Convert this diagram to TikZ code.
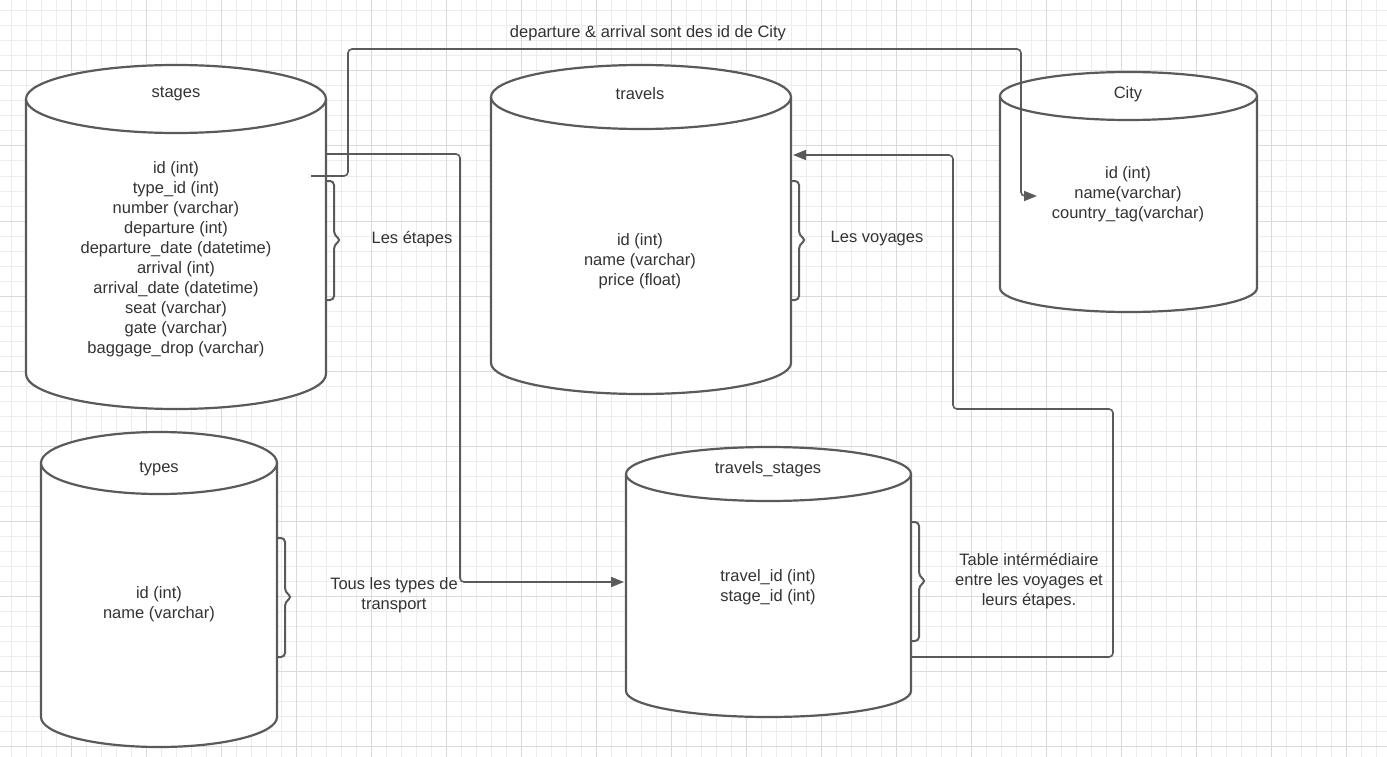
\documentclass[tikz,border=0pt]{standalone}
\usepackage{fontspec}
\setmainfont{Liberation Sans}
\usetikzlibrary{calc,arrows.meta}
\definecolor{linecol}{HTML}{5A5A5A}
\definecolor{txtcol}{HTML}{333333}
\definecolor{gridminor}{HTML}{EDEDED}
\definecolor{gridmajor}{HTML}{DADADA}
\newcommand\dbcyl[6]{% xl xr yt ryt yb ryb
  \pgfmathsetmacro\cylcx{(#1+#2)/2}%
  \pgfmathsetmacro\cylrx{(#2-#1)/2}%
  \filldraw[cylline] (#1,#3)
    .. controls (#1,{#3-0.5523*#4}) and ({\cylcx-0.5523*\cylrx},{#3-#4}) .. (\cylcx,{#3-#4})
    .. controls ({\cylcx+0.5523*\cylrx},{#3-#4}) and (#2,{#3-0.5523*#4}) .. (#2,#3)
    -- (#2,#5)
    .. controls (#2,{#5+0.5523*#6}) and ({\cylcx+0.5523*\cylrx},{#5+#6}) .. (\cylcx,{#5+#6})
    .. controls ({\cylcx-0.5523*\cylrx},{#5+#6}) and (#1,{#5+0.5523*#6}) .. (#1,#5)
    -- cycle;
  \draw[cylline] (#1,#3)
    .. controls (#1,{#3+0.5523*#4}) and ({\cylcx-0.5523*\cylrx},{#3+#4}) .. (\cylcx,{#3+#4})
    .. controls ({\cylcx+0.5523*\cylrx},{#3+#4}) and (#2,{#3+0.5523*#4}) .. (#2,#3);
}
\tikzset{
  cylline/.style={draw=linecol, fill=white, line width=2.2pt, line join=round},
  box/.style={draw=none, inner sep=0pt, outer sep=0pt, rectangle},
  txt/.style={text=txtcol, font=\fontsize{16.5}{20}\selectfont, align=center, inner sep=0pt},
  conn/.style={draw=linecol, line width=1.6pt, rounded corners=4pt},
  tip/.style={-{Triangle[length=13pt,width=10pt]}},
  brace/.style={draw=linecol, line width=2pt, rounded corners=4pt},
  minor/.style={draw=gridminor, line width=1pt},
  major/.style={draw=gridmajor, line width=1pt}
}
\begin{document}
\begin{tikzpicture}[x=1pt,y=-1pt]
\useasboundingbox (0,0) rectangle (1387,757);
\fill[white] (0,0) rectangle (1387,757);
% grid
\foreach \x in {11,26,...,1386} \draw[minor] (\x,0) -- (\x,757);
\foreach \y in {11,26,...,756} \draw[minor] (0,\y) -- (1387,\y);
\foreach \x in {71,146,...,1386} \draw[major] (\x,0) -- (\x,757);
\foreach \y in {71,146,...,756} \draw[major] (0,\y) -- (1387,\y);

% cylinders
\dbcyl{26}{326}{99}{34}{374}{35}
\dbcyl{41}{277}{463}{31}{717}{30}
\dbcyl{491}{791}{97}{32}{363}{31}
\dbcyl{1000}{1257}{96}{24}{288}{24}
\dbcyl{626}{911}{474}{27}{691}{26}

% named frames of the cylinders
\node[box, minimum width=300pt, minimum height=345pt] (stages) at (176,236.5) {};
\node[box, minimum width=236pt, minimum height=314pt] (types) at (159,590) {};
\node[box, minimum width=300pt, minimum height=329pt] (travels) at (641,229.5) {};
\node[box, minimum width=257pt, minimum height=240pt] (City) at (1128.5,192) {};
\node[box, minimum width=285pt, minimum height=270pt] (ts) at (768.5,582) {};

% titles and fields
\node[txt] (stages-title) at (176,94) {stages};
\node[txt] (stages-fields) at (176,259) {id (int)\\type\_id (int)\\number (varchar)\\departure (int)\\departure\_date (datetime)\\arrival (int)\\arrival\_date (datetime)\\seat (varchar)\\gate (varchar)\\baggage\_drop (varchar)};
\node[txt] (travels-title) at (640,94) {travels};
\node[txt] (travels-fields) at (640,261) {id (int)\\name (varchar)\\price (float)};
\node[txt] (City-title) at (1128,94) {City};
\node[txt] (City-fields) at (1128,194) {id (int)\\name(varchar)\\country\_tag(varchar)};
\node[txt] (types-title) at (159,469) {types};
\node[txt] (types-fields) at (159,604) {id (int)\\name (varchar)};
\node[txt] (ts-title) at (768,469) {travels\_stages};
\node[txt] (ts-fields) at (768,587) {travel\_id (int)\\stage\_id (int)};

% braces
\draw[brace] ($(stages.north east)+(0,117)$) -- ++(8,0) -- ++(0,54) -- ++(7,5) -- ++(-7,5) -- ++(0,55) -- ++(-8,0);
\draw[brace] ($(travels.north east)+(0,116)$) -- ++(8,0) -- ++(0,54) -- ++(7,5) -- ++(-7,5) -- ++(0,55) -- ++(-8,0);
\draw[brace] ($(types.north east)+(0,105)$) -- ++(8,0) -- ++(0,54) -- ++(7,5) -- ++(-7,5) -- ++(0,55) -- ++(-8,0);
\draw[brace] ($(ts.north east)+(0,75)$) -- ++(8,0) -- ++(0,54) -- ++(7,5) -- ++(-7,5) -- ++(0,55) -- ++(-8,0);

% brace labels
\node[txt] (l-stages) at (412,239) {Les étapes};
\node[txt] (l-travels) at (877,239) {Les voyages};
\node[txt] (l-types) at (394,595) {Tous les types de\\transport};
\node[txt] (l-ts) at (1029,581) {Table intérmédiaire\\entre les voyages et\\leurs étapes.};
\node[txt] (l-city) at (648,33) {departure \& arrival sont des id de City};

% connectors
\draw[conn,tip] ($(stages.north east)+(-15,112)$) -- ++(37,0) -- ++(0,-127) -| ($(City.north west)+(21,124)$) -- ($(City.north west)+(37,124)$);
\draw[conn,tip] ($(stages.north east)+(0,90)$) -- ++(134,0) |- ($(ts.north west)+(-2,135)$);
\draw[conn,tip] ($(ts.north east)+(0,210)$) -- ++(202,0) -- ++(0,-248) -- ++(-160,0) |- ($(travels.north east)+(2,90)$);
\end{tikzpicture}
\end{document}
